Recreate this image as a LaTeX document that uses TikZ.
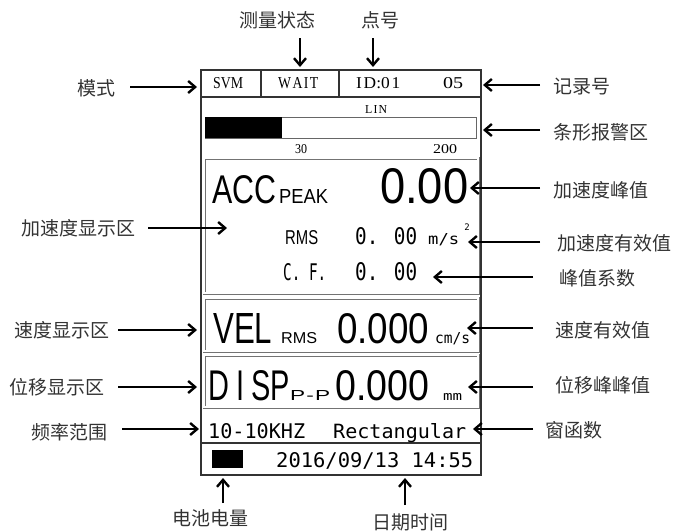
\documentclass[tikz,border=0pt]{standalone}
\usepackage{fontspec}
\usepackage{graphicx}
\usetikzlibrary{arrows.meta}
\newfontfamily\cjk{Noto Sans CJK SC}
\newfontfamily\lsans{Liberation Sans}
\newfontfamily\lserif{Liberation Serif}
\newfontfamily\dmono{DejaVu Sans Mono}
\newcommand{\fitbox}[3]{\resizebox{#1pt}{#2pt}{#3}}
\begin{document}
\begin{tikzpicture}[x=1pt,y=-1pt,
  lbl/.style={font=\cjk\fontsize{19}{19}\selectfont, text=black!80, inner sep=0},
  ptr/.style={line width=2.4pt, -{Straight Barb[length=7pt,width=12pt]}},
  lcd/.style={inner sep=0, anchor=base west},
  frameline/.style={draw=black!80, line width=1.3pt},
  panel/.style={draw=black!55, double=white, double distance=1.2pt, line width=0.9pt},
]
\useasboundingbox (0,0) rectangle (677,531);

% screen frame
\draw[frameline] (201,70) rectangle (481,475);
\draw[frameline] (201,97) -- (481,97);
\draw[frameline] (261,70) -- (261,97);
\draw[frameline] (339,70) -- (339,97);
\draw[frameline] (201,443) -- (481,443);

% bar
\node[draw=black!60, line width=1pt, inner sep=0, minimum width=271pt, minimum height=21pt, anchor=north west] (bar) at (205,117) {};
\node[fill=black, inner sep=0, minimum width=77pt, minimum height=21pt, anchor=north west] (barfill) at (205,117) {};

% panels
\draw[panel] (204,158) rectangle (478,293);
\draw[panel] (204,298) rectangle (478,351);
\draw[panel] (204,355) rectangle (478,407);

% top row
\node[lcd] (svm) at (213,88) {\fitbox{30}{11}{\lserif SVM}};
\node[lcd] (wait) at (278,88) {\fitbox{40}{11}{\lserif W\kern1pt A\kern1pt I\kern1pt T}};
\node[lcd] (id) at (356,88) {\fitbox{44}{11}{\lserif I\kern1pt D:0\kern1pt 1}};
\node[lcd] (rec) at (443,88) {\fitbox{20}{11}{\lserif 05}};
\node[lcd] (lin) at (365,113) {\fitbox{22}{8}{\lserif L\kern1pt I\kern1pt N}};
\node[lcd] (t30) at (295,153) {\fitbox{12}{9}{\lserif 30}};
\node[lcd] (t200) at (433,153) {\fitbox{24}{9}{\lserif 200}};

% ACC
\node[lcd] (acc) at (212,203) {\fitbox{64}{28}{\lsans ACC}};
\node[lcd] (peak) at (279,203) {\fitbox{49}{14}{\lsans PEAK}};
\node[lcd] (accpk) at (380,203) {\fitbox{88}{35}{\lsans 0.00}};
\node[lcd] (rms1) at (285,244) {\fitbox{33}{14}{\lsans RMS}};
\node[lcd] (accrms) at (355,244) {\fitbox{62}{17}{\dmono 0. 00}};
\node[lcd] (unit1) at (428,244) {\fitbox{31}{11}{\dmono m/s}};
\node[inner sep=0, font=\dmono\fontsize{9}{9}\selectfont] (sq) at (467,227) {2};
\node[lcd] (cf) at (283,280) {\fitbox{43}{17}{\dmono C. F.}};
\node[lcd] (cfv) at (355,280) {\fitbox{62}{18}{\dmono 0. 00}};

% VEL
\node[lcd] (vel) at (213,343) {\fitbox{59}{30}{\lsans VEL}};
\node[lcd] (rms2) at (281,343) {\fitbox{36}{11}{\lsans RMS}};
\node[lcd] (velv) at (337,343) {\fitbox{92}{30}{\lsans 0.000}};
\node[lcd] (unit2) at (435,343) {\fitbox{35}{11}{\dmono cm/s}};

% DISP
\node[lcd] (disp) at (208,400) {\fitbox{82}{30}{\lsans D\hspace{0.25em}I\hspace{0.25em}SP}};
\node[lcd] (pp) at (290,400) {\fitbox{40}{10}{\lsans P\kern0.5pt-\kern0.5pt P}};
\node[lcd] (dispv) at (335,400) {\fitbox{94}{30}{\lsans 0.000}};
\node[lcd] (unit3) at (443,400) {\fitbox{19}{7}{\dmono mm}};

% freq / window
\node[lcd] (freq) at (208,438) {\fitbox{97}{15}{\dmono 10-10KHZ}};
\node[lcd] (win) at (333,438) {\fitbox{133}{15}{\dmono Rectangular}};

% battery / date
\node[fill=black, inner sep=0, minimum width=31pt, minimum height=18pt, anchor=north west] (bat) at (212,450) {};
\node[lcd] (date) at (276,467) {\fitbox{197}{15}{\dmono 2016/09/13 14:55}};

% labels
\node[lbl] (l1) at (96,88) {模式};
\node[lbl] (l2) at (78,228) {加速度显示区};
\node[lbl] (l3) at (62,330) {速度显示区};
\node[lbl] (l4) at (57,387) {位移显示区};
\node[lbl] (l5) at (69,432) {频率范围};
\node[lbl, anchor=west] (r1) at (553,87) {记录号};
\node[lbl, anchor=west] (r2) at (553,132) {条形报警区};
\node[lbl, anchor=west] (r3) at (553,190) {加速度峰值};
\node[lbl, anchor=west] (r4) at (557,243) {加速度有效值};
\node[lbl, anchor=west] (r5) at (559,278) {峰值系数};
\node[lbl, anchor=west] (r6) at (555,330) {速度有效值};
\node[lbl, anchor=west] (r7) at (555,385) {位移峰峰值};
\node[lbl, anchor=west] (r8) at (545,430) {窗函数};
\node[lbl] (t1) at (277,20) {测量状态};
\node[lbl] (t2) at (380,20) {点号};
\node[lbl] (b1) at (210,518) {电池电量};
\node[lbl] (b2) at (410,522) {日期时间};

% arrow end points
\coordinate (l1s) at (130,87);  \coordinate (l1t) at (197,87);
\coordinate (l2s) at (148,228); \coordinate (l2t) at (227,228);
\coordinate (l3s) at (118,330); \coordinate (l3t) at (197,330);
\coordinate (l4s) at (118,387); \coordinate (l4t) at (197,387);
\coordinate (l5s) at (122,429); \coordinate (l5t) at (199,429);
\coordinate (r1s) at (540,85);  \coordinate (r1t) at (483,85);
\coordinate (r2s) at (540,130); \coordinate (r2t) at (483,130);
\coordinate (r3s) at (540,188); \coordinate (r3t) at (470,188);
\coordinate (r4s) at (540,242); \coordinate (r4t) at (468,242);
\coordinate (r5s) at (533,277); \coordinate (r5t) at (433,277);
\coordinate (r6s) at (533,328); \coordinate (r6t) at (467,328);
\coordinate (r7s) at (533,387); \coordinate (r7t) at (468,387);
\coordinate (r8s) at (533,429); \coordinate (r8t) at (473,429);
\coordinate (t1s) at (300,38);  \coordinate (t1t) at (300,67);
\coordinate (t2s) at (373,38);  \coordinate (t2t) at (373,67);
\coordinate (b1s) at (223,503); \coordinate (b1t) at (223,478);
\coordinate (b2s) at (405,505); \coordinate (b2t) at (405,478);

\foreach \a in {l1,l2,l3,l4,l5,r1,r2,r3,r4,r5,r6,r7,r8,t1,t2,b1,b2}
  \draw[ptr] (\a s) -- (\a t);
\end{tikzpicture}
\end{document}
